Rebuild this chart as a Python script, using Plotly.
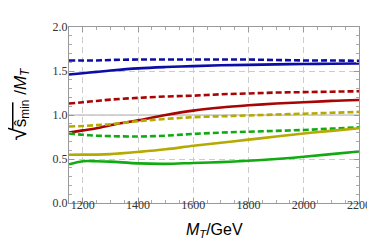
import plotly.graph_objects as go

mt = [1150, 1200, 1250, 1300, 1400, 1500, 1600, 1700, 1800, 1900, 2000, 2100, 2200]

blue_dashed = [1.62, 1.62, 1.62, 1.625, 1.63, 1.63, 1.63, 1.63, 1.63, 1.625, 1.62, 1.62, 1.615]
blue_solid = [1.46, 1.475, 1.49, 1.505, 1.53, 1.545, 1.555, 1.565, 1.57, 1.575, 1.58, 1.582, 1.585]
red_dashed = [1.13, 1.145, 1.16, 1.175, 1.195, 1.21, 1.22, 1.235, 1.245, 1.255, 1.26, 1.265, 1.27]
red_solid = [0.80, 0.825, 0.85, 0.885, 0.94, 1.00, 1.05, 1.085, 1.11, 1.13, 1.145, 1.16, 1.17]
yellow_dashed = [0.87, 0.875, 0.885, 0.895, 0.93, 0.955, 0.975, 0.985, 0.995, 1.005, 1.015, 1.025, 1.035]
green_dashed = [0.79, 0.775, 0.765, 0.76, 0.755, 0.765, 0.785, 0.80, 0.81, 0.82, 0.83, 0.845, 0.86]
yellow_solid = [0.548, 0.55, 0.55, 0.555, 0.58, 0.61, 0.65, 0.685, 0.72, 0.755, 0.79, 0.82, 0.85]
green_solid = [0.44, 0.475, 0.475, 0.47, 0.45, 0.445, 0.455, 0.465, 0.48, 0.50, 0.525, 0.555, 0.585]

x_ticks = [1200, 1400, 1600, 1800, 2000, 2200]
y_ticks = [0.0, 0.5, 1.0, 1.5, 2.0]

BLUE = "#0c0ca6"
RED = "#a80404"
OLIVE = "#b4aa00"
GREEN = "#12aa12"

series = [
    (blue_dashed, BLUE, "6px,3px"),
    (blue_solid, BLUE, "solid"),
    (red_dashed, RED, "6px,3px"),
    (red_solid, RED, "solid"),
    (yellow_dashed, OLIVE, "6px,3px"),
    (green_dashed, GREEN, "6px,3px"),
    (yellow_solid, OLIVE, "solid"),
    (green_solid, GREEN, "solid"),
]

fig = go.Figure()
for ys, col, dash in series:
    fig.add_trace(go.Scatter(x=mt, y=ys, mode="lines", line=dict(color=col, width=2.6, dash=dash, shape="spline"),
                             showlegend=False, hoverinfo="skip"))

# solid reference line at y = 1
fig.add_hline(y=1.0, line=dict(color="#aaaaaa", width=1), layer="below")

tickfont = dict(family="Liberation Serif", size=12, color="#333333")
fig.update_xaxes(range=[1150, 2200], tickvals=x_ticks, ticktext=[str(v) for v in x_ticks],
                 showgrid=True, gridcolor="#cccccc", griddash="6px,4px", gridwidth=1,
                 showline=True, linecolor="#999999", linewidth=1, mirror="ticks",
                 ticks="inside", ticklen=5, tickcolor="#999999", tickfont=tickfont,
                 ticklabelstandoff=-9,
                 minor=dict(dtick=50, ticks="inside", ticklen=3, tickcolor="#aaaaaa", showgrid=False),
                 zeroline=False)
fig.update_yaxes(range=[0, 2], tickvals=y_ticks, ticktext=["%.1f" % v for v in y_ticks],
                 showgrid=True, gridcolor="#cccccc", griddash="6px,4px", gridwidth=1,
                 showline=True, linecolor="#999999", linewidth=1, mirror="ticks",
                 ticks="inside", ticklen=5, tickcolor="#999999", tickfont=tickfont,
                 ticklabelstandoff=-2,
                 minor=dict(dtick=0.1, ticks="inside", ticklen=3, tickcolor="#aaaaaa", showgrid=False),
                 zeroline=False)

fig.add_annotation(xref="paper", yref="paper", x=0.5, y=-0.09, yanchor="top", showarrow=False,
                   text="<i>M<sub>T</sub></i>/GeV", font=dict(family="Liberation Sans", size=16, color="black"))

# y-axis label with radical
fig.add_annotation(xref="paper", yref="paper", x=-0.176, y=0.56, xanchor="center", yanchor="middle",
                   showarrow=False, textangle=-90,
                   text="<span style='font-size:24px'>√</span>ŝ<sub>min</sub> /<i>M<sub>T</sub></i>",
                   font=dict(family="Liberation Sans", size=17, color="black"))
# radical bar
fig.add_shape(type="line", xref="paper", yref="paper", x0=-0.194, x1=-0.194, y0=0.42, y1=0.572,
              line=dict(color="black", width=1.5))

fig.update_layout(width=375, height=250, margin=dict(l=61, r=13, t=15, b=55),
                  plot_bgcolor="white", paper_bgcolor="white")

fig.write_html("out.html")
